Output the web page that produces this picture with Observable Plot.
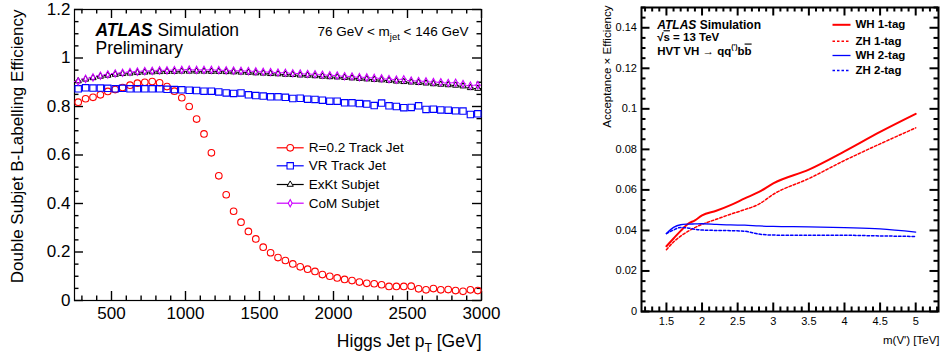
<!DOCTYPE html>
<html>
<head>
<meta charset="utf-8">
<script src="https://cdn.jsdelivr.net/npm/d3@7"></script>
<script src="https://cdn.jsdelivr.net/npm/@observablehq/plot@0.6"></script>
<style>
  body { margin: 0; background: #fff; }
  #wrap { position: relative; width: 940px; height: 358px; overflow: hidden; background: #fff; }
  #left { position: absolute; left: 0; top: 0; }
  #right { position: absolute; left: 590px; top: 0; }
  svg { display: block; }
</style>
</head>
<body>
<div id="wrap"><div id="left"></div><div id="right"></div></div>
<script>
const FONT = "'Liberation Sans', Arial, Helvetica, sans-serif";

// ---------------- Left panel data ----------------
const ptBins = [275,325,375,425,475,525,575,625,675,725,775,825,875,925,975,1025,1075,1125,1175,1225,
  1275,1325,1375,1425,1475,1525,1575,1625,1675,1725,1775,1825,1875,1925,1975,2025,2075,2125,2175,2225,
  2275,2325,2375,2425,2475,2525,2575,2625,2675,2725,2775,2825,2875,2925,2975];
const effR02 = [0.818,0.832,0.838,0.848,0.862,0.870,0.878,0.888,0.896,0.900,
  0.903,0.898,0.882,0.863,0.836,0.800,0.748,0.687,0.609,0.514,
  0.436,0.368,0.323,0.285,0.254,0.220,0.197,0.177,0.165,0.151,
  0.139,0.129,0.120,0.107,0.100,0.093,0.087,0.082,0.076,0.071,
  0.069,0.065,0.058,0.058,0.058,0.059,0.048,0.044,0.049,0.044,
  0.045,0.041,0.038,0.044,0.041];
const effVR = [0.873,0.877,0.876,0.876,0.875,0.873,0.875,0.873,0.873,0.873,
  0.873,0.873,0.871,0.870,0.869,0.867,0.866,0.863,0.863,0.860,
  0.856,0.854,0.856,0.848,0.845,0.843,0.840,0.840,0.838,0.833,
  0.834,0.830,0.829,0.826,0.822,0.822,0.815,0.815,0.812,0.810,
  0.804,0.814,0.803,0.800,0.795,0.796,0.803,0.788,0.789,0.786,
  0.785,0.782,0.781,0.767,0.770];
const effExKt = [0.905,0.912,0.918,0.924,0.928,0.932,0.935,0.937,0.939,0.941,
  0.942,0.943,0.944,0.944,0.945,0.945,0.945,0.945,0.944,0.944,
  0.943,0.942,0.941,0.940,0.938,0.937,0.935,0.934,0.932,0.931,
  0.929,0.928,0.926,0.924,0.922,0.921,0.919,0.917,0.915,0.913,
  0.911,0.909,0.907,0.904,0.902,0.900,0.898,0.896,0.893,0.891,
  0.889,0.887,0.884,0.877,0.874];
const effCoM = [0.903,0.914,0.920,0.927,0.932,0.936,0.939,0.942,0.944,0.946,
  0.947,0.949,0.949,0.950,0.951,0.952,0.951,0.951,0.951,0.950,
  0.949,0.948,0.947,0.946,0.945,0.943,0.942,0.940,0.939,0.937,
  0.936,0.934,0.933,0.931,0.929,0.928,0.925,0.924,0.921,0.920,
  0.918,0.916,0.913,0.911,0.912,0.907,0.905,0.904,0.901,0.900,
  0.897,0.898,0.893,0.886,0.888];
const leftXTicks = [500, 1000, 1500, 2000, 2500, 3000];
const leftYTicks = [0, 0.2, 0.4, 0.6, 0.8, 1, 1.2];
const leftLegend = ["R=0.2 Track Jet", "VR Track Jet", "ExKt Subjet", "CoM Subjet"];

// ---------------- Right panel data ----------------
const massPoints = [1.5,1.6,1.7,1.8,1.9,2.0,2.2,2.4,2.6,2.8,3.0,3.5,4.0,4.5,5.0];
const accWH1 = [0.0322,0.0360,0.0398,0.0432,0.0450,0.0474,0.0497,0.0525,0.0558,0.0590,0.0632,0.0700,0.0790,0.0886,0.0975];
const accZH1 = [0.0305,0.0343,0.0372,0.0395,0.0414,0.0430,0.0455,0.0480,0.0503,0.0530,0.0578,0.0656,0.0745,0.0827,0.0906];
const accWH2 = [0.0385,0.0415,0.0428,0.0431,0.0432,0.0433,0.0430,0.0427,0.0426,0.0422,0.0420,0.0418,0.0414,0.0408,0.0392];
const accZH2 = [0.0384,0.0402,0.0415,0.0412,0.0406,0.0402,0.0400,0.0399,0.0396,0.0382,0.0377,0.0376,0.0376,0.0373,0.0370];
const rightXTicks = [1.5, 2, 2.5, 3, 3.5, 4, 4.5, 5];
const rightYTicks = [0, 0.02, 0.04, 0.06, 0.08, 0.1, 0.12, 0.14];
const rightLegend = ["WH 1-tag", "ZH 1-tag", "WH 2-tag", "ZH 2-tag"];

// ---------------- helpers ----------------
const offGrid = (step) => (v) => Math.abs(v / step - Math.round(v / step)) > 1e-6;
const leftMinorX = d3.range(300, 3000, 100).filter(offGrid(500));
const leftMinorY = d3.range(0, 1.2001, 0.05).filter(offGrid(0.2));
const rightMinorX = d3.range(1.2, 5.31, 0.1).filter(offGrid(0.5));
const rightMinorY = d3.range(0, 0.1501, 0.005).filter(offGrid(0.02));

const thinDiamond = {draw(ctx, size) {
  const r = Math.sqrt(size / Math.PI);
  ctx.moveTo(0, -r * 1.3); ctx.lineTo(r * 0.7, 0); ctx.lineTo(0, r * 1.3); ctx.lineTo(-r * 0.7, 0); ctx.closePath();
}};
const hLine = (len) => ({draw(ctx) { ctx.moveTo(-len / 2, 0); ctx.lineTo(len / 2, 0); }});

// inward frame ticks on all four sides (pixel lengths converted to data units)
function frameTicks(xd, yd, xMaj, xMin, yMaj, yMin, fw, fh, Lmaj, Lmin, sw) {
  const kx = (xd[1] - xd[0]) / fw, ky = (yd[1] - yd[0]) / fh;
  const o = {stroke: "#000", strokeWidth: sw};
  const xt = (vals, L) => [
    Plot.ruleX(vals, {x: d => d, y1: yd[0], y2: yd[0] + L * ky, ...o}),
    Plot.ruleX(vals, {x: d => d, y1: yd[1], y2: yd[1] - L * ky, ...o})
  ];
  const yt = (vals, L) => [
    Plot.ruleY(vals, {y: d => d, x1: xd[0], x2: xd[0] + L * kx, ...o}),
    Plot.ruleY(vals, {y: d => d, x1: xd[1], x2: xd[1] - L * kx, ...o})
  ];
  return [...xt(xMaj, Lmaj), ...xt(xMin, Lmin), ...yt(yMaj, Lmaj), ...yt(yMin, Lmin)];
}

function rich(svg) {
  d3.select(svg).selectAll("text").each(function() {
    const s = this.textContent;
    if (!/\*|[_^~]\{/.test(s)) return;
    const fs = parseFloat(getComputedStyle(this).fontSize) || 12;
    const parts = s.split(/(\*[^*]+\*|[_^~]\{[^}]*\})/).filter(p => p);
    this.textContent = "";
    let shift = 0;
    for (const p of parts) {
      const t = document.createElementNS("http://www.w3.org/2000/svg", "tspan");
      let txt = p, dy = -shift; shift = 0;
      if (p.startsWith("*")) { txt = p.slice(1, -1); t.setAttribute("font-weight", "bold"); t.setAttribute("font-style", "italic"); }
      else if (p.startsWith("_{")) { txt = p.slice(2, -1); t.setAttribute("font-size", fs * 0.7); dy += fs * 0.3; shift = fs * 0.3; }
      else if (p.startsWith("^{")) { txt = p.slice(2, -1); t.setAttribute("font-size", fs * 0.6); dy -= fs * 0.45; shift = -fs * 0.45; }
      else if (p.startsWith("~{")) { txt = p.slice(2, -1); t.style.textDecoration = "overline"; }
      if (dy) t.setAttribute("dy", dy);
      t.textContent = txt;
      this.appendChild(t);
    }
  });
}

// ---------------- Left plot ----------------
const W1 = 500, H1 = 358, mL1 = 74, mR1 = 19, mT1 = 9, mB1 = 58;
const fw1 = W1 - mL1 - mR1, fh1 = H1 - mT1 - mB1;
const xDom1 = [250, 3000], yDom1 = [0, 1.2];
const rowsL = ptBins.map((x, i) => ({x, r: effR02[i], vr: effVR[i], exkt: effExKt[i], com: effCoM[i]}));
const leftStyles = [
  {key: "r", color: "#ff0000", symbol: "circle", r: 3.3, fill: "none", sw: 1.1},
  {key: "vr", color: "#0000ff", symbol: "square", r: 3.6, fill: "none", sw: 1.1},
  {key: "exkt", color: "#000000", symbol: "triangle", r: 2.3, fill: "white", sw: 1},
  {key: "com", color: "#cc00ff", symbol: thinDiamond, r: 2.8, fill: "none", sw: 1.1}
];
const legRowDy1 = [138.3, 156.3, 175, 193.7];

const leftMarks = [
  Plot.axisX({ticks: leftXTicks, tickSize: 0, tickPadding: 6, tickFormat: d => String(d), fontSize: 17, label: null}),
  Plot.axisY({ticks: leftYTicks, tickSize: 0, tickPadding: 4, tickFormat: d => String(d), fontSize: 17, label: null}),
  Plot.frame({stroke: "#000", strokeWidth: 1.2}),
  ...frameTicks(xDom1, yDom1, leftXTicks, leftMinorX, leftYTicks, leftMinorY, fw1, fh1, 9, 4.5, 1.4),
  Plot.ruleY(rowsL, {x1: d => d.x - 25, x2: d => d.x + 25, y: "exkt", stroke: "#000", strokeWidth: 1}),
  Plot.ruleY(rowsL, {x1: d => d.x - 25, x2: d => d.x + 25, y: "com", stroke: "#cc00ff", strokeWidth: 1}),
];
for (const s of leftStyles) {
  leftMarks.push(Plot.dot(rowsL, {x: "x", y: s.key, symbol: s.symbol, r: s.r, stroke: s.color, fill: s.fill, strokeWidth: s.sw}));
}
leftLegend.forEach((lab, i) => {
  const s = leftStyles[i];
  leftMarks.push(
    Plot.dot([lab], {frameAnchor: "top-left", dx: 215.7, dy: legRowDy1[i], symbol: hLine(27), stroke: s.color, fill: "none", strokeWidth: 1.2}),
    Plot.dot([lab], {frameAnchor: "top-left", dx: 215.7, dy: legRowDy1[i], symbol: s.symbol, r: s.r, stroke: s.color, fill: "white", strokeWidth: s.sw}),
    Plot.text([lab], {frameAnchor: "top-left", dx: 234.3, dy: legRowDy1[i], text: d => d, textAnchor: "start", lineAnchor: "middle", fontSize: 13.5, fill: "#000"})
  );
});
leftMarks.push(
  Plot.text(["*ATLAS* Simulation"], {frameAnchor: "top-left", dx: 21, dy: 26, text: d => d, textAnchor: "start", lineAnchor: "bottom", fontSize: 17.5, fill: "#000"}),
  Plot.text(["Preliminary"], {frameAnchor: "top-left", dx: 21, dy: 44.5, text: d => d, textAnchor: "start", lineAnchor: "bottom", fontSize: 17.5, fill: "#000"}),
  Plot.text(["76 GeV < m_{jet} < 146 GeV"], {frameAnchor: "top-right", dx: -13, dy: 26, text: d => d, textAnchor: "end", lineAnchor: "bottom", fontSize: 13.5, fill: "#000"}),
  Plot.text(["Double Subjet B-Labelling Efficiency"], {frameAnchor: "top-left", dx: -57.3, dy: 0, rotate: -90, text: d => d, textAnchor: "end", lineAnchor: "middle", fontSize: 17, fill: "#000"}),
  Plot.text(["Higgs Jet p_{T} [GeV]"], {frameAnchor: "bottom-right", dx: 0, dy: 46, text: d => d, textAnchor: "end", lineAnchor: "bottom", fontSize: 17.5, fill: "#000"})
);

const leftPlot = Plot.plot({
  width: W1, height: H1,
  marginLeft: mL1, marginRight: mR1, marginTop: mT1, marginBottom: mB1,
  style: {fontFamily: FONT, fontSize: "17px", color: "#000", background: "#fff", overflow: "visible"},
  x: {domain: xDom1},
  y: {domain: yDom1},
  marks: leftMarks
});
document.getElementById("left").appendChild(leftPlot);
rich(leftPlot);

// ---------------- Right plot ----------------
const W2 = 350, H2 = 358, mL2 = 51, mR2 = 2, mT2 = 7, mB2 = 47;
const fw2 = W2 - mL2 - mR2, fh2 = H2 - mT2 - mB2;
const xDom2 = [1.15, 5.32], yDom2 = [0, 0.15];
const rowsR = massPoints.map((m, i) => ({m, wh1: accWH1[i], zh1: accZH1[i], wh2: accWH2[i], zh2: accZH2[i]}));
const rightStyles = [
  {key: "wh1", color: "#ff0000", dash: null, sw: 2},
  {key: "zh1", color: "#ff0000", dash: "2.5,2", sw: 1.5},
  {key: "wh2", color: "#0000ff", dash: null, sw: 1.3},
  {key: "zh2", color: "#0000ff", dash: "2.5,2", sw: 1.5}
];
const legRowDy2 = [17.3, 33.7, 48, 63];

const rightMarks = [
  Plot.axisX({ticks: rightXTicks, tickSize: 0, tickPadding: 5.5, tickFormat: d => String(d), fontSize: 11, label: null}),
  Plot.axisY({ticks: rightYTicks, tickSize: 0, tickPadding: 4.5, tickFormat: d => String(d), fontSize: 11, label: null}),
  Plot.frame({stroke: "#000", strokeWidth: 2}),
  ...frameTicks(xDom2, yDom2, rightXTicks, rightMinorX, rightYTicks, rightMinorY, fw2, fh2, 8.5, 4.5, 2)
];
for (const s of rightStyles) {
  rightMarks.push(Plot.line(rowsR, {x: "m", y: s.key, stroke: s.color, strokeWidth: s.sw, strokeDasharray: s.dash, curve: "monotone-x"}));
}
rightLegend.forEach((lab, i) => {
  const s = rightStyles[i];
  rightMarks.push(
    Plot.dot([lab], {frameAnchor: "top-right", dx: -97, dy: legRowDy2[i], symbol: hLine(18), stroke: s.color, fill: "none", strokeWidth: s.sw, strokeDasharray: s.dash}),
    Plot.text([lab], {frameAnchor: "top-right", dx: -83, dy: legRowDy2[i], text: d => d, textAnchor: "start", lineAnchor: "middle", fontSize: 11.5, fontWeight: "bold", fill: "#000"})
  );
});
rightMarks.push(
  Plot.text(["*ATLAS* Simulation"], {frameAnchor: "top-left", dx: 15.7, dy: 21.3, text: d => d, textAnchor: "start", lineAnchor: "bottom", fontSize: 12, fontWeight: "bold", fill: "#000"}),
  Plot.text(["√~{s} = 13 TeV"], {frameAnchor: "top-left", dx: 15.7, dy: 33.7, text: d => d, textAnchor: "start", lineAnchor: "bottom", fontSize: 11.5, fontWeight: "bold", fill: "#000"}),
  Plot.text(["HVT VH → qq^{(')}b~{b}"], {frameAnchor: "top-left", dx: 15.7, dy: 47, text: d => d, textAnchor: "start", lineAnchor: "bottom", fontSize: 11.5, fontWeight: "bold", fill: "#000"}),
  Plot.text(["Acceptance × Efficiency"], {frameAnchor: "top-left", dx: -34.3, dy: -2, rotate: -90, text: d => d, textAnchor: "end", lineAnchor: "middle", fontSize: 11.5, fill: "#000"}),
  Plot.text(["m(V') [TeV]"], {frameAnchor: "bottom-right", dx: 1, dy: 32, text: d => d, textAnchor: "end", lineAnchor: "bottom", fontSize: 11.5, fill: "#000"})
);

const rightPlot = Plot.plot({
  width: W2, height: H2,
  marginLeft: mL2, marginRight: mR2, marginTop: mT2, marginBottom: mB2,
  style: {fontFamily: FONT, fontSize: "11px", color: "#000", background: "#fff", overflow: "visible"},
  x: {domain: xDom2},
  y: {domain: yDom2},
  marks: rightMarks
});
document.getElementById("right").appendChild(rightPlot);
rich(rightPlot);
</script>
</body>
</html>
